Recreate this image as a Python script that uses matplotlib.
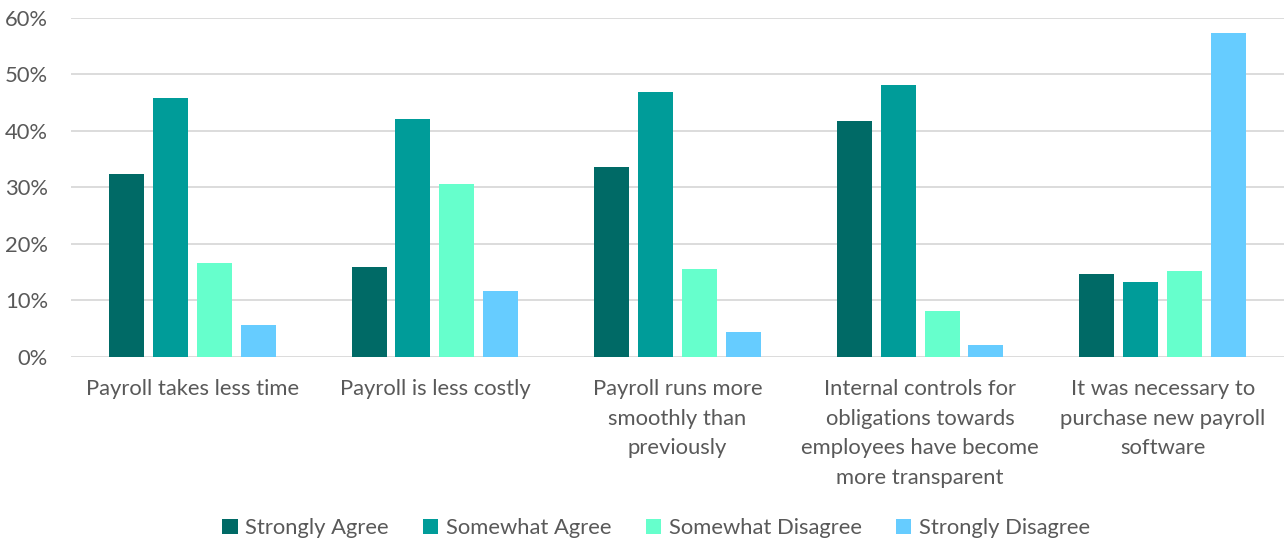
import matplotlib.pyplot as plt
import numpy as np

categories = [
    'Payroll takes less time',
    'Payroll is less costly',
    'Payroll runs more\nsmoothly than\npreviously',
    'Internal controls for\nobligations towards\nemployees have become\nmore transparent',
    'It was necessary to\npurchase new payroll\nsoftware',
]
series_names = ['Strongly Agree', 'Somewhat Agree', 'Somewhat Disagree', 'Strongly Disagree']
strongly_agree = [32.4, 15.9, 33.6, 41.7, 14.7]
somewhat_agree = [45.8, 42.0, 46.8, 48.1, 13.3]
somewhat_disagree = [16.6, 30.6, 15.6, 8.2, 15.2]
strongly_disagree = [5.6, 11.7, 4.4, 2.2, 57.2]
colors = ['#006A66', '#009C99', '#66FFCC', '#66CCFF']

plt.rcParams['font.family'] = ['Lato', 'DejaVu Sans']
TXT = '#595959'
FS = 15.8

fig = plt.figure(figsize=(12.85, 5.43), dpi=100)
ax = fig.add_axes([71 / 1285, 1 - 357 / 543, (1284 - 71) / 1285, (357 - 17.5) / 543])

x = np.arange(len(categories))
step = 0.181
width = 0.144
all_series = [strongly_agree, somewhat_agree, somewhat_disagree, strongly_disagree]
for i, (vals, name, c) in enumerate(zip(all_series, series_names, colors)):
    ax.bar(x + (i - 1.5) * step, vals, width, color=c, label=name, zorder=3)

ax.set_xlim(-0.5, len(categories) - 0.5)
ax.set_ylim(0, 60)
ax.set_yticks(range(0, 61, 10))
ax.set_yticklabels([f'{v}%' for v in range(0, 61, 10)])
ax.yaxis.grid(True, color='#D9D9D9', linewidth=1.3, zorder=0)
ax.set_xticks(x)
ax.set_xticklabels(categories, linespacing=1.6)
ax.tick_params(axis='both', length=0, colors=TXT, labelsize=FS)
ax.tick_params(axis='y', pad=16.5)
ax.tick_params(axis='x', pad=16)
for s in ax.spines.values():
    s.set_visible(False)

fig.legend(loc='center', bbox_to_anchor=(656 / 1285, 1 - 528 / 543), ncol=4, frameon=False,
           fontsize=FS, labelcolor=TXT, handlelength=0.7, handleheight=0.7,
           handletextpad=0.35, columnspacing=1.55)

fig.savefig('out.png', dpi=100)
